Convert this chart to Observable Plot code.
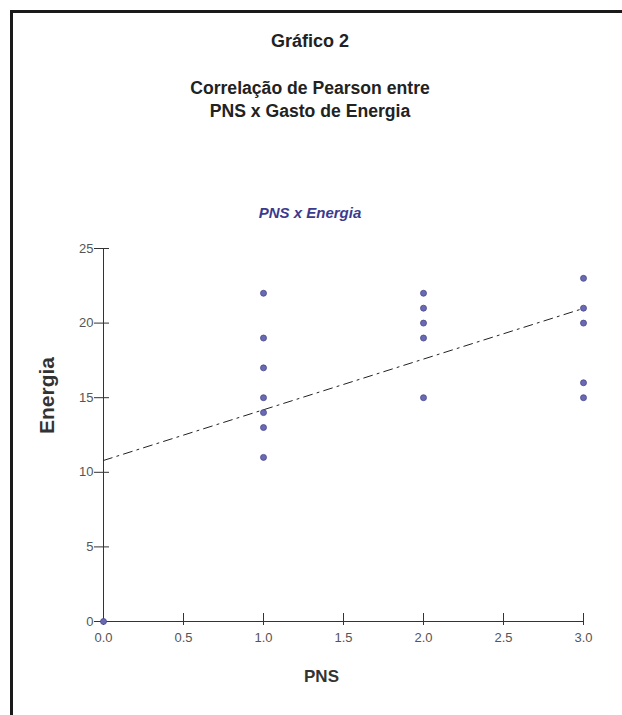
<!DOCTYPE html>
<html><head><meta charset="utf-8">
<script src="https://cdn.jsdelivr.net/npm/d3@7"></script>
<script src="https://cdn.jsdelivr.net/npm/@observablehq/plot@0.6"></script>
<style>
body{margin:0;background:#fff;font-family:"Liberation Sans",Arial,sans-serif;}
#wrap{position:relative;width:622px;height:715px;overflow:hidden;background:#fff;}
#frame{position:absolute;left:10px;top:10px;width:800px;height:900px;border-left:3px solid #1a1a1a;border-top:3px solid #1a1a1a;}
.t{position:absolute;left:10px;width:600px;text-align:center;font-weight:bold;color:#222;white-space:nowrap;}
#chart{position:absolute;left:0;top:225px;}
</style></head><body>
<div id="wrap">
<div id="frame"></div>
<div class="t" style="top:30px;font-size:18px;line-height:22px">Gráfico 2</div>
<div class="t" style="top:77px;font-size:17.6px;line-height:23px">Correlação de Pearson entre<br>PNS x Gasto de Energia</div>
<div class="t" style="top:203px;font-size:15px;line-height:20px;font-style:italic;color:#3b3b8e">PNS x Energia</div>
<div id="chart"></div>
</div>
<script>
// Data
const pns     = [0, 1, 1, 1, 1, 1, 1, 1, 2, 2, 2, 2, 2, 3, 3, 3, 3, 3];
const energia = [0, 22, 19, 17, 15, 14, 13, 11, 22, 21, 20, 19, 15, 23, 21, 20, 16, 15];
const xTicks = [0, 0.5, 1, 1.5, 2, 2.5, 3];
const yTicks = [0, 5, 10, 15, 20, 25];
const xTitle = "PNS";
const yTitle = "Energia";

const data = pns.map((x, i) => ({pns: x, energia: energia[i]}));
const axisColor = "#333";
const tickLabelColor = "#555";

const chart = Plot.plot({
  width: 622,
  height: 475,
  marginLeft: 103,
  marginRight: 39,
  marginTop: 23,
  marginBottom: 79,
  style: {background: "transparent", fontFamily: "'Liberation Sans', Arial, sans-serif", overflow: "visible"},
  x: {domain: [0, 3]},
  y: {domain: [0, 25]},
  marks: [
    // x axis: ticks crossing the line (mostly upward), labels below
    Plot.axisX({ticks: xTicks, tickSize: 4, tickFormat: () => "", stroke: axisColor, label: null}),
    Plot.axisX({ticks: xTicks, tickSize: 8, dy: -8, tickFormat: () => "", stroke: axisColor, label: null}),
    Plot.axisX({ticks: xTicks, tickSize: 0, tickPadding: 11, tickFormat: d3.format(".1f"), fill: tickLabelColor, fontSize: 13, label: null}),
    // y axis: ticks crossing the line
    Plot.axisY({ticks: yTicks, tickSize: 9, tickPadding: 1, stroke: axisColor, fill: tickLabelColor, fontSize: 13, label: null}),
    Plot.axisY({ticks: yTicks, tickSize: -6, tickFormat: () => "", stroke: axisColor, label: null}),
    Plot.ruleX([0], {stroke: axisColor}),
    Plot.ruleY([0], {stroke: axisColor}),
    // axis titles
    Plot.text([xTitle], {text: d => d, frameAnchor: "bottom", dx: -22, dy: 60, fontSize: 17, fontWeight: "bold", fill: axisColor}),
    Plot.text([yTitle], {text: d => d, frameAnchor: "left", rotate: -90, dx: -56, dy: -1, fontSize: 21, fontWeight: "bold", fill: axisColor}),
    Plot.linearRegressionY(data, {x: "pns", y: "energia", ci: 0, stroke: "#222", strokeWidth: 1, strokeDasharray: "9,5,2,5"}),
    Plot.dot(data, {x: "pns", y: "energia", r: 3, fill: "#6a6ab4", stroke: "#48488c", strokeWidth: 0.8})
  ]
});
document.getElementById("chart").appendChild(chart);
</script>
</body></html>
